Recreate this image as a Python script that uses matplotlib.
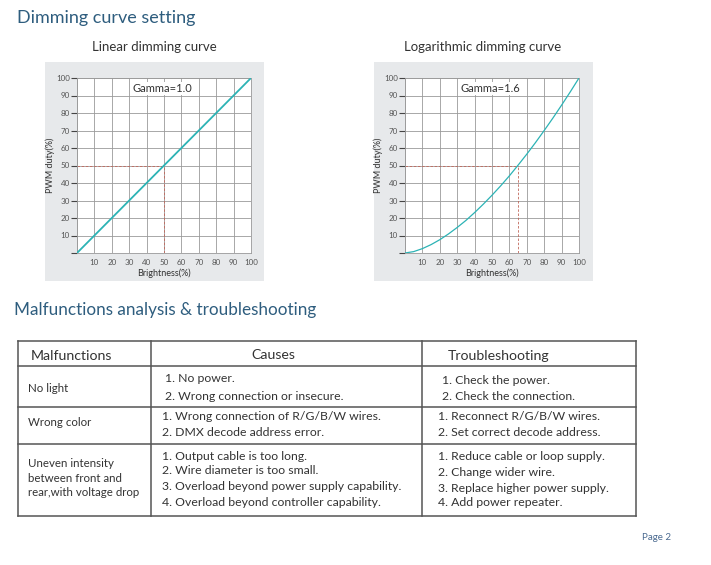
import matplotlib
matplotlib.use("Agg")
import matplotlib.pyplot as plt
from matplotlib.patches import Rectangle

plt.rcParams['font.family'] = ['Lato', 'DejaVu Sans']

# ---- chart data ----
ticks = [10, 20, 30, 40, 50, 60, 70, 80, 90, 100]
linear_x = [0, 100]
linear_y = [0, 100]
# gamma 1.6 curve
log_x = [0, 5, 10, 15, 20, 25, 30, 35, 40, 45, 50, 55, 60, 65, 70, 75, 80, 85, 90, 95, 100]
log_y = [0, 0.8, 2.5, 4.8, 7.6, 10.9, 14.6, 18.6, 23.1, 27.9, 33.0, 38.4, 44.1, 50.2,
         56.5, 63.1, 70.0, 77.1, 84.5, 92.1, 100]
linear_mark = (50, 50)
log_mark = (65, 50)

# ---- table data ----
headers = ["Malfunctions", "Causes", "Troubleshooting"]
malfunctions = ["No light", "Wrong color", "Uneven intensity\nbetween front and\nrear,with voltage drop"]
causes = [
    ["1. No power.", "2. Wrong connection or insecure."],
    ["1. Wrong connection of R/G/B/W wires.", "2. DMX decode address error."],
    ["1. Output cable is too long.", "2. Wire diameter is too small.",
     "3. Overload beyond power supply capability.", "4. Overload beyond controller capability."],
]
fixes = [
    ["1. Check the power.", "2. Check the connection."],
    ["1. Reconnect R/G/B/W wires.", "2. Set correct decode address."],
    ["1. Reduce cable or loop supply.", "2. Change wider wire.",
     "3. Replace higher power supply.", "4. Add power repeater."],
]

W, H = 711, 565
fig = plt.figure(figsize=(W / 100, H / 100), dpi=100)

# page layer in pixel coords
page = fig.add_axes([0, 0, 1, 1])
page.set_xlim(0, W)
page.set_ylim(H, 0)
page.axis("off")

blue = "#2e5d7e"
text_c = "#333333"
line_c = "#555555"
teal = "#2cb3b5"
dash_c = "#c0675a"

page.text(17, 18, "Dimming curve setting", fontsize=13, color=blue, va="center", ha="left")
page.text(14, 310, "Malfunctions analysis & troubleshooting", fontsize=12.3, color=blue, va="center", ha="left")
page.text(671, 538, "Page 2", fontsize=7, color="#4a6a90", va="center", ha="right")


def px_axes(x0, y0, x1, y1):
    return fig.add_axes([x0 / W, 1 - y1 / H, (x1 - x0) / W, (y1 - y0) / H])


def draw_chart(panel_x, plot_x, title, gamma_txt, xs, ys, mark, lw):
    page.add_patch(Rectangle((panel_x, 62), 219, 219, facecolor="#e7e9eb", edgecolor="none"))
    page.text(panel_x + 109, 47, title, fontsize=9.5, color=text_c, ha="center", va="center")
    ax = px_axes(plot_x, 78, plot_x + 174, 253)
    ax.set_facecolor("white")
    ax.plot(xs, ys, color=teal, linewidth=lw, zorder=3)
    mx, my = mark
    ax.plot([0, mx], [my, my], color=dash_c, linewidth=0.6, linestyle=(0, (3, 2)), zorder=2)
    ax.plot([mx, mx], [0, my], color=dash_c, linewidth=0.6, linestyle=(0, (3, 2)), zorder=2)
    ax.set_xlim(0, 100)
    ax.set_ylim(0, 100)
    ax.set_xticks([0] + ticks)
    ax.set_yticks([0] + ticks)
    ax.set_xticklabels([""] + [str(t) for t in ticks])
    ax.set_yticklabels([""] + [str(t) for t in ticks])
    ax.grid(True, color="#9a9a9a", linewidth=0.6)
    ax.tick_params(axis="y", direction="out", length=4, width=0.8, color="#444444",
                   labelsize=5.8, labelcolor="#555555", pad=1)
    ax.tick_params(axis="x", length=0, labelsize=5.8, labelcolor="#555555", pad=4)
    for s in ax.spines.values():
        s.set_color("#9a9a9a")
        s.set_linewidth(0.6)
    ax.set_xlabel("Brightness(%)", fontsize=6.5, color=text_c, labelpad=2)
    ax.set_ylabel("PWM duty(%)", fontsize=6.5, color=text_c, labelpad=1)
    ax.text(49, 94, gamma_txt, fontsize=8, color=text_c, ha="center", va="center", zorder=4,
            bbox=dict(facecolor="white", edgecolor="none", pad=0.5))
    return ax


draw_chart(45, 77, "Linear dimming curve", "Gamma=1.0", linear_x, linear_y, linear_mark, 1.3)
draw_chart(374, 405, "Logarithmic dimming curve", "Gamma=1.6", log_x, log_y, log_mark, 0.9)

# ---- table ----
left, right = 18, 636
col1, col2 = 151, 422
row_lines = [341, 366, 407, 444, 516]
for y in row_lines:
    page.plot([left, right], [y, y], color=line_c, linewidth=1.1)
for x in [left, col1, col2, right]:
    page.plot([x, x], [row_lines[0], row_lines[-1]], color=line_c, linewidth=1.1)

page.text(31, 356, headers[0], fontsize=10.2, color=text_c, va="center", ha="left")
page.text(273, 355, headers[1], fontsize=10.2, color=text_c, va="center", ha="center")
page.text(448, 356, headers[2], fontsize=10.2, color=text_c, va="center", ha="left")

mal_y = [388, 423, 478]
for name, y in zip(malfunctions, mal_y):
    page.text(28, y, name, fontsize=8.3, color=text_c, va="center", ha="left", linespacing=1.4)

cause_rows = [([379, 396], 165), ([417, 433], 162), ([456, 471, 487, 503], 162)]
fix_rows = [([380, 397], 442), ([417, 433], 438), ([456, 472, 488, 503], 438)]
for items, (ys, x) in zip(causes, cause_rows):
    for t, y in zip(items, ys):
        page.text(x, y, t, fontsize=8.8, color=text_c, va="center", ha="left")
for items, (ys, x) in zip(fixes, fix_rows):
    for t, y in zip(items, ys):
        page.text(x, y, t, fontsize=8.8, color=text_c, va="center", ha="left")

fig.savefig("out.png", dpi=100, facecolor="white")
